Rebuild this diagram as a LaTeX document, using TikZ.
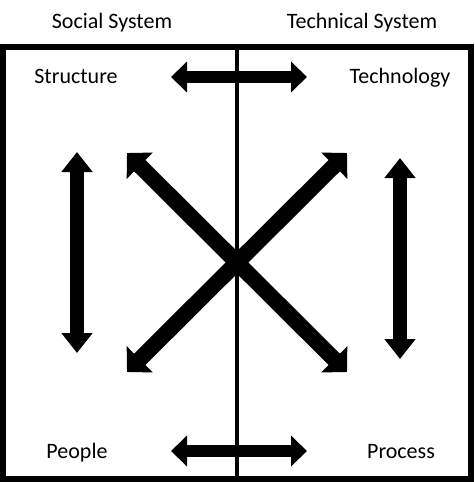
\documentclass[tikz,border=0pt]{standalone}
\usepackage{fontspec}
\setmainfont{Carlito}
\usepackage{tikz}
\usetikzlibrary{arrows.meta}
\usetikzlibrary{positioning}
\tikzset{lbl/.style = {anchor=base, inner sep=0, font=\fontsize{22}{26}\selectfont}}
\tikzset{harr/.style = {line width=12pt, {Triangle[width=30pt,length=16pt]}-{Triangle[width=30pt,length=16pt]}}}
\tikzset{varr/.style = {line width=14pt, {Triangle[width=30pt,length=20pt]}-{Triangle[width=30pt,length=20pt]}}}
\tikzset{darr/.style = {line width=16pt, {Triangle[width=36pt,length=18pt]}-{Triangle[width=36pt,length=18pt]}}}

\begin{document}
\begin{tikzpicture}[x=1pt, y=-1pt]
    \useasboundingbox (0, 0) rectangle (474, 482);

    \draw [line width=6pt] (3, 46.5) rectangle (471, 479);
    \draw [line width=4.5pt] (237, 46.5) -- (237, 479);

    \node [lbl] (social) at (112, 28) {Social System};
    \node [lbl] (technical) at (362, 28) {Technical System};
    \node [lbl] (structure) at (76, 83) {Structure};
    \node [lbl] (technology) at (400, 83) {Technology};
    \node [lbl] (people) at (77, 458) {People};
    \node [lbl] (process) at (401, 458) {Process};

    \coordinate (st) at (171, 77);
    \coordinate (te) at (307, 77);
    \coordinate (pe) at (171, 451);
    \coordinate (pr) at (307, 451);
    \draw [harr] (st) -- (te);
    \draw [harr] (pe) -- (pr);

    \coordinate (lt) at (77, 152);
    \coordinate (lb) at (77, 353);
    \coordinate (rt) at (400, 158);
    \coordinate (rb) at (400, 359);
    \draw [varr] (lt) -- (lb);
    \draw [varr] (rt) -- (rb);

    \coordinate (xtl) at (127, 153);
    \coordinate (xtr) at (347, 153);
    \coordinate (xbl) at (127, 372);
    \coordinate (xbr) at (347, 372);
    \draw [darr] (xtl) -- (xbr);
    \draw [darr] (xtr) -- (xbl);
  \end{tikzpicture}
\end{document}
